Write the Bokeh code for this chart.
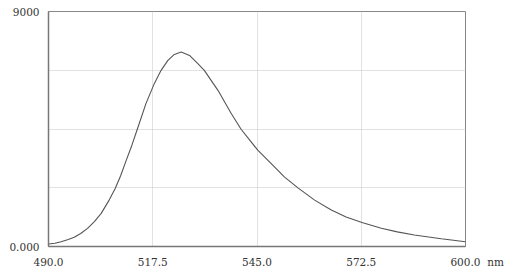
from bokeh.plotting import figure
from bokeh.models import Range1d, FixedTicker, LinearAxis, Grid
from bokeh.embed import file_html
from bokeh.resources import INLINE

# Data (wavelength nm, intensity)
wavelength = [490.0, 491.7, 493.3, 495.0, 496.8, 498.5, 500.3, 502.1, 503.9, 506.0,
              507.6, 509.0, 510.5, 512.0, 513.4, 515.7, 517.9, 519.7, 521.5, 523.2,
              525.0, 527.2, 529.4, 531.1, 534.7, 538.2, 540.8, 545.2, 550.0, 552.2,
              555.8, 560.2, 564.6, 568.5, 572.9, 577.8, 582.0, 586.5, 593.6, 600.0]
intensity = [96, 122, 183, 260, 352, 497, 696, 955, 1269, 1777,
             2224, 2700, 3300, 3880, 4479, 5473, 6237, 6746, 7128, 7357,
             7445, 7319, 7002, 6746, 5981, 5091, 4491, 3688, 2989, 2668,
             2247, 1777, 1395, 1130, 910, 696, 560, 440, 298, 183]

x_ticks = [490.0, 517.5, 545.0, 572.5, 600.0]
x_labels = ["490.0", "517.5", "545.0", "572.5", "600.0"]
x_unit = "nm"
y_ticks = [0, 9000]
y_labels = ["0.000", "9000"]
y_grid = [2250, 4500, 6750]

FONT = "DejaVu Serif"
NB = "\u00a0"

p = figure(width=512, height=271, output_backend="svg", toolbar_location=None,
           x_range=Range1d(490, 600), y_range=Range1d(0, 9000),
           min_border_left=48, min_border_right=47, min_border_top=11,
           min_border_bottom=25, x_axis_type=None, y_axis_type=None)

xa = LinearAxis(ticker=FixedTicker(ticks=x_ticks))
overrides = {t: l for t, l in zip(x_ticks, x_labels)}
overrides[x_ticks[-1]] = NB * 7 + x_labels[-1] + NB * 2 + x_unit
xa.major_label_overrides = overrides
ya = LinearAxis(ticker=FixedTicker(ticks=y_ticks))
ya.major_label_overrides = {t: l for t, l in zip(y_ticks, y_labels)}
for ax in (xa, ya):
    ax.major_tick_line_color = None
    ax.minor_tick_line_color = None
    ax.axis_line_color = "#777777"
    ax.axis_line_width = 1.5
    ax.major_label_text_font = FONT
    ax.major_label_text_font_size = "10.5px"
    ax.major_label_text_color = "#333333"
    ax.major_label_standoff = 3
p.add_layout(xa, "below")
p.add_layout(ya, "left")

xg = Grid(dimension=0, ticker=FixedTicker(ticks=x_ticks[1:-1]))
yg = Grid(dimension=1, ticker=FixedTicker(ticks=y_grid))
for g in (xg, yg):
    g.grid_line_color = "#c4c4c4"
    g.grid_line_dash = "1 1"
    g.grid_line_width = 1
    p.add_layout(g)

p.outline_line_color = "#888888"
p.outline_line_width = 1
p.background_fill_color = "white"
p.border_fill_color = "white"

p.line(wavelength, intensity, line_color="#555555", line_width=1.1)

open("out.html", "w").write(file_html(p, INLINE))
